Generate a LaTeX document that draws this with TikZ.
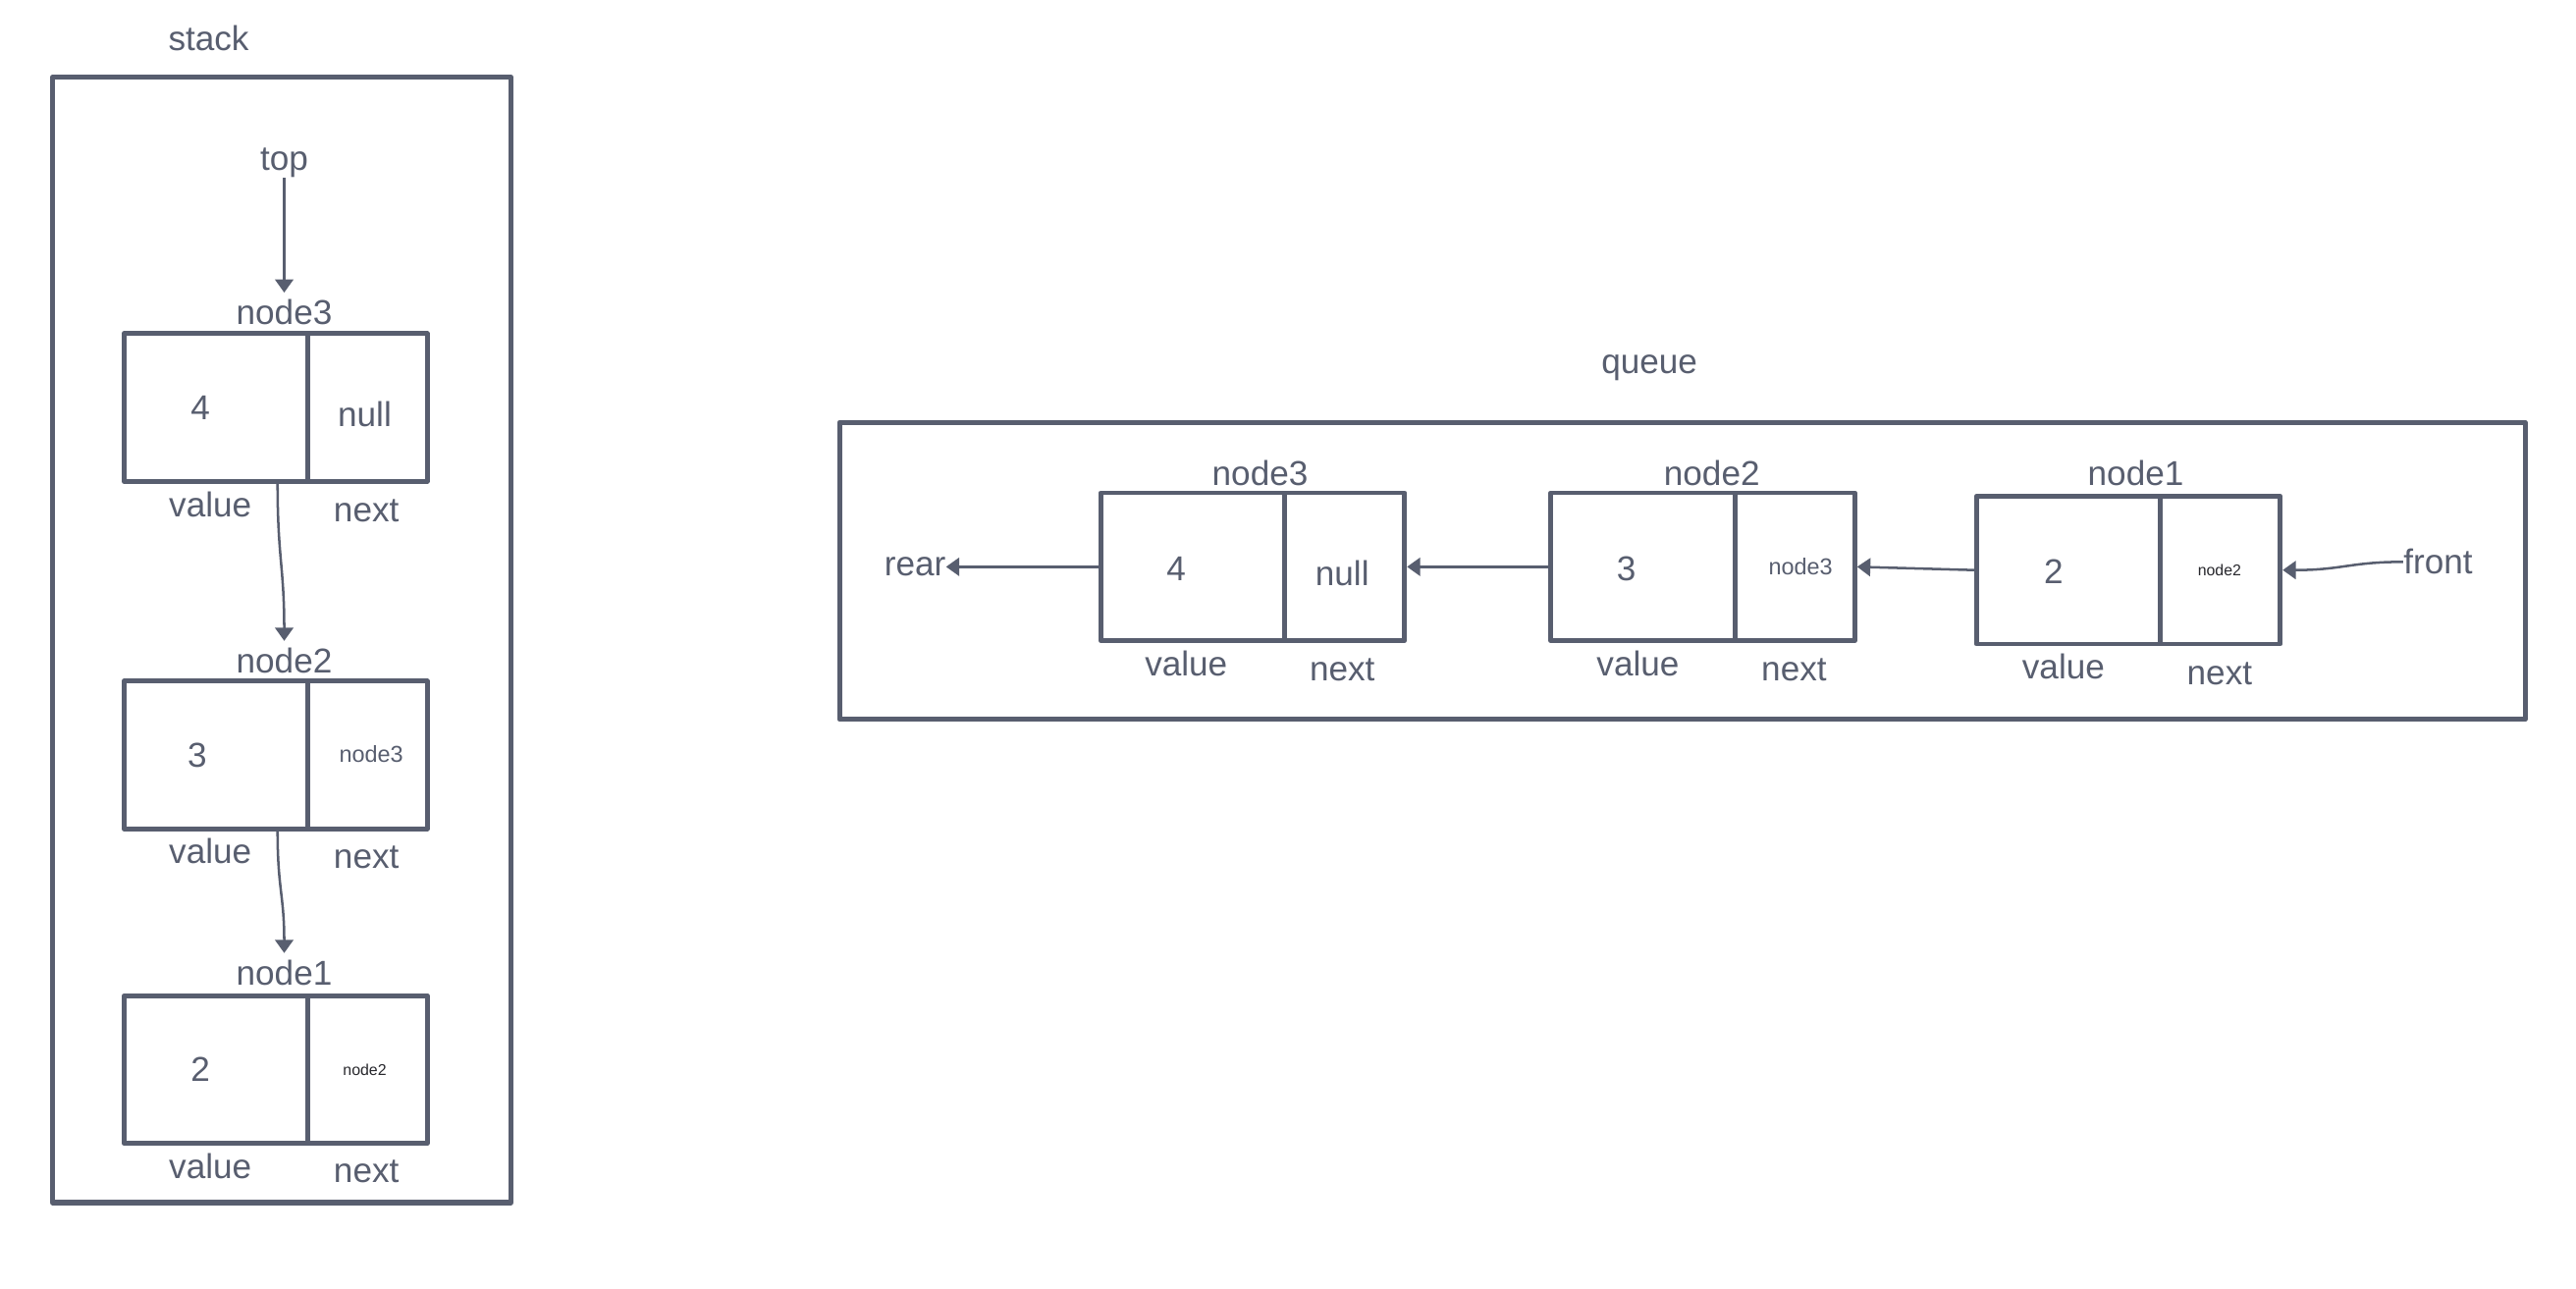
\documentclass[tikz,border=0pt]{standalone}
\usepackage{fontspec}
\setmainfont{Liberation Sans}
\usetikzlibrary{arrows.meta,calc}
\definecolor{ink}{RGB}{88,94,111}
\definecolor{dark}{RGB}{40,40,45}
\begin{document}
\begin{tikzpicture}[x=1pt,y=-1pt,
  frame/.style={draw=ink,line width=3pt,line join=round,inner sep=0pt},
  cell/.style={draw=ink,line width=2.9pt,line join=round,inner sep=0pt,minimum height=90pt},
  valcell/.style={cell,minimum width=112pt},
  nextcell/.style={cell,minimum width=73pt},
  txt/.style={text=ink,inner sep=0pt,font=\fontsize{21}{25}\selectfont},
  smalltxt/.style={text=ink,inner sep=0pt,font=\fontsize{14}{16}\selectfont},
  tinytxt/.style={text=dark,inner sep=0pt,font=\fontsize{9.5}{11}\selectfont},
  link/.style={draw=ink,line width=1.5pt,-{Triangle[width=11pt,length=8pt]}}]
\useasboundingbox (0,0) rectangle (1568,784);
\fill[white] (0,0) rectangle (1568,784);

% ---------------- stack ----------------
\node[txt] (stacklab) at (127,23) {stack};
\node[frame,minimum width=279pt,minimum height=685pt] (stackframe) at (171.5,389.5) {};
\node[txt] (top) at (173,99) {top};

\node[txt] (s3lab) at (173,190) {node3};
\node[valcell] (s3v) at (131.5,248) {};
\node[nextcell] (s3n) at (223.5,248) {};
\node[txt] (s3val) at (122,248) {4};
\node[txt] (s3nxt) at (222,252) {null};
\node[txt] (s3vl) at (128,307) {value};
\node[txt] (s3nl) at (223,311) {next};

\node[txt] (s2lab) at (173,402) {node2};
\node[valcell] (s2v) at (131.5,459.5) {};
\node[nextcell] (s2n) at (223.5,459.5) {};
\node[txt] (s2val) at (120,460) {3};
\node[smalltxt] (s2nxt) at (226,459) {node3};
\node[txt] (s2vl) at (128,518) {value};
\node[txt] (s2nl) at (223,522) {next};

\node[txt] (s1lab) at (173,592) {node1};
\node[valcell] (s1v) at (131.5,651) {};
\node[nextcell] (s1n) at (223.5,651) {};
\node[txt] (s1val) at (122,651) {2};
\node[tinytxt] (s1nxt) at (222,651) {node2};
\node[txt] (s1vl) at (128,710) {value};
\node[txt] (s1nl) at (223,713) {next};

\draw[link] (top.south) -- ($(s3lab.north)+(0,-4)$);
\coordinate (a3) at ($(s3v.south east)+(-20,0)$);
\coordinate (b3) at ($(s2lab.north)+(0,-4)$);
\draw[link] (a3) .. controls ($(a3)+(0,45)$) and ($(b3)+(0,-45)$) .. (b3);
\coordinate (a2) at ($(s2v.south east)+(-20,0)$);
\coordinate (b2) at ($(s1lab.north)+(0,-4)$);
\draw[link] (a2) .. controls ($(a2)+(0,35)$) and ($(b2)+(0,-35)$) .. (b2);

% ---------------- queue ----------------
\node[txt] (queuelab) at (1004,224) {queue};
\node[frame,minimum width=1026pt,minimum height=181pt] (queueframe) at (1024,347.5) {};

\node[txt] (q3lab) at (767,288) {node3};
\node[valcell] (q3v) at (726,345) {};
\node[nextcell] (q3n) at (818.5,345) {};
\node[txt] (q3val) at (716,346) {4};
\node[txt] (q3nxt) at (817,349) {null};
\node[txt] (q3vl) at (722,404) {value};
\node[txt] (q3nl) at (817,408) {next};

\node[txt] (q2lab) at (1042,288) {node2};
\node[valcell] (q2v) at (1000,345) {};
\node[nextcell] (q2n) at (1092.5,345) {};
\node[txt] (q2val) at (990,346) {3};
\node[smalltxt] (q2nxt) at (1096,345) {node3};
\node[txt] (q2vl) at (997,404) {value};
\node[txt] (q2nl) at (1092,408) {next};

\node[txt] (q1lab) at (1300,288) {node1};
\node[valcell] (q1v) at (1259,347) {};
\node[nextcell] (q1n) at (1351.5,347) {};
\node[txt] (q1val) at (1250,348) {2};
\node[tinytxt] (q1nxt) at (1351,347) {node2};
\node[txt] (q1vl) at (1256,406) {value};
\node[txt] (q1nl) at (1351,410) {next};

\node[txt] (rear) at (557,345) {rear};
\node[txt] (front) at (1484,342) {front};

\draw[link] (q3v.west) -- (rear.east);
\draw[link] (q2v.west) -- (q3n.east);
\draw[link] (q1v.west) -- (q2n.east);
\draw[link] (front.west) .. controls ($(front.west)+(-32,0)$) and ($(q1n.east)+(36,0)$) .. (q1n.east);
\end{tikzpicture}
\end{document}
